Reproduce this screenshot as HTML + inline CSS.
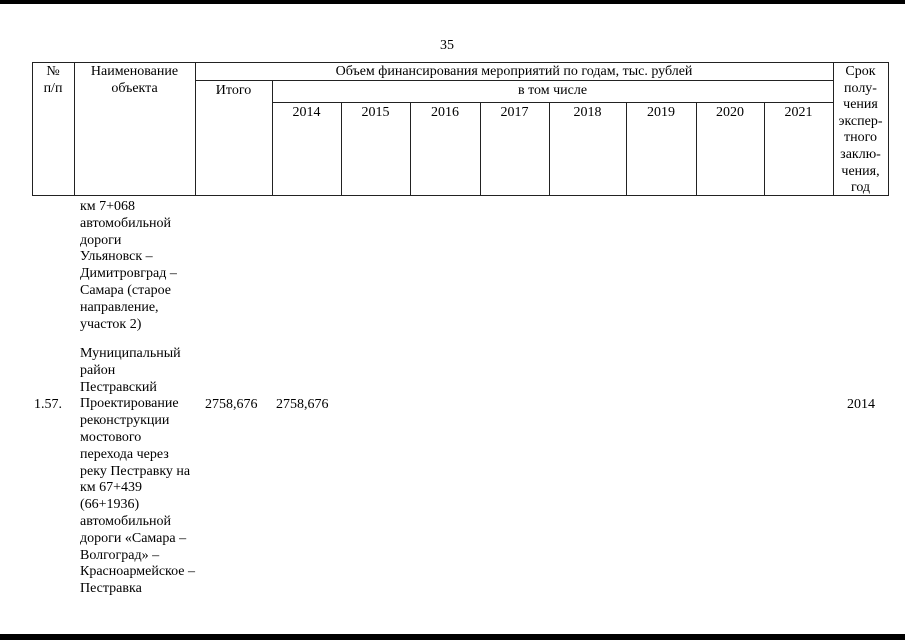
<!DOCTYPE html>
<html><head><meta charset="utf-8"><style>
html,body{margin:0;padding:0;background:#fff;}
body{width:905px;height:640px;position:relative;overflow:hidden;font-family:"Liberation Serif",serif;font-size:14px;color:#000;}
.t{position:absolute;white-space:nowrap;line-height:17px;}
.h{position:absolute;background:#222;height:1px;}
.v{position:absolute;background:#222;width:1px;}
.c{text-align:center;}
</style></head><body>
<div style="position:absolute;left:0;top:0;width:905px;height:4px;background:#000"></div>
<div style="position:absolute;left:0;top:634px;width:905px;height:6px;background:#000"></div>
<div class="t" style="left:440px;top:37px">35</div>

<div class="h" style="left:32px;top:62px;width:857px"></div>
<div class="h" style="left:195px;top:80px;width:639px"></div>
<div class="h" style="left:272px;top:102px;width:562px"></div>
<div class="h" style="left:32px;top:195px;width:857px"></div>
<div class="v" style="left:32px;top:62px;height:134px"></div>
<div class="v" style="left:74px;top:62px;height:134px"></div>
<div class="v" style="left:195px;top:62px;height:134px"></div>
<div class="v" style="left:272px;top:80px;height:116px"></div>
<div class="v" style="left:341px;top:102px;height:94px"></div>
<div class="v" style="left:410px;top:102px;height:94px"></div>
<div class="v" style="left:480px;top:102px;height:94px"></div>
<div class="v" style="left:549px;top:102px;height:94px"></div>
<div class="v" style="left:626px;top:102px;height:94px"></div>
<div class="v" style="left:696px;top:102px;height:94px"></div>
<div class="v" style="left:764px;top:102px;height:94px"></div>
<div class="v" style="left:833px;top:62px;height:134px"></div>
<div class="v" style="left:888px;top:62px;height:134px"></div>

<div class="t c" style="left:32px;width:42px;top:63px">№<br>п/п</div>
<div class="t c" style="left:74px;width:121px;top:63px">Наименование<br>объекта</div>
<div class="t c" style="left:195px;width:638px;top:63px">Объем финансирования мероприятий по годам, тыс. рублей</div>
<div class="t c" style="left:195px;width:77px;top:82px">Итого</div>
<div class="t c" style="left:272px;width:561px;top:82px">в том числе</div>
<div class="t c" style="left:272px;width:69px;top:104px">2014</div>
<div class="t c" style="left:341px;width:69px;top:104px">2015</div>
<div class="t c" style="left:410px;width:70px;top:104px">2016</div>
<div class="t c" style="left:480px;width:69px;top:104px">2017</div>
<div class="t c" style="left:549px;width:77px;top:104px">2018</div>
<div class="t c" style="left:626px;width:70px;top:104px">2019</div>
<div class="t c" style="left:696px;width:68px;top:104px">2020</div>
<div class="t c" style="left:764px;width:69px;top:104px">2021</div>
<div class="t c" style="left:833px;width:55px;top:64px;line-height:16.6px">Срок<br>полу-<br>чения<br>экспер-<br>тного<br>заклю-<br>чения,<br>год</div>

<div class="t" style="left:80px;top:199px;line-height:16.8px">км 7+068<br>автомобильной<br>дороги<br>Ульяновск –<br>Димитровград –<br>Самара (старое<br>направление,<br>участок 2)</div>
<div class="t" style="left:80px;top:346px;line-height:16.8px">Муниципальный<br>район<br>Пестравский<br>Проектирование<br>реконструкции<br>мостового<br>перехода через<br>реку Пестравку на<br>км 67+439<br>(66+1936)<br>автомобильной<br>дороги «Самара –<br>Волгоград» –<br>Красноармейское –<br>Пестравка</div>
<div class="t" style="left:34px;top:396px">1.57.</div>
<div class="t" style="left:205px;top:396px">2758,676</div>
<div class="t" style="left:276px;top:396px">2758,676</div>
<div class="t" style="left:847px;top:396px">2014</div>
</body></html>
